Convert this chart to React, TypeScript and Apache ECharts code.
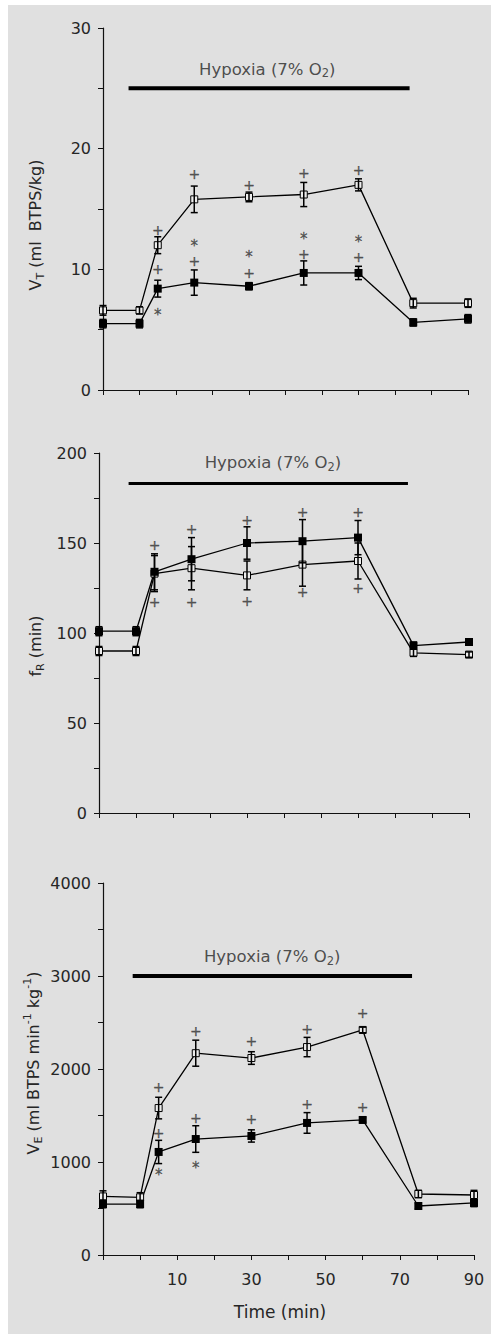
import React, { useEffect, useRef } from "react";
import * as echarts from "echarts";

// Time points (min); -10 is the baseline before hypoxia
const times = [-10, 0, 5, 15, 30, 45, 60, 75, 90];
const xLabelTicks = [10, 30, 50, 70, 90];

// Panel 1: VT (ml BTPS/kg)
const vtOpen = [6.6, 6.6, 12.0, 15.8, 16.0, 16.2, 17.0, 7.2, 7.2];
const vtOpenErr = [0.4, 0.3, 0.7, 1.1, 0.4, 1.0, 0.5, 0.4, 0.35];
const vtFilled = [5.5, 5.5, 8.4, 8.9, 8.6, 9.7, 9.7, 5.6, 5.9];
const vtFilledErr = [0.35, 0.35, 0.7, 1.05, 0.3, 1.0, 0.55, 0.3, 0.35];
const vtPlus = [[5, 13.3], [5, 10.0], [15, 17.9], [15, 10.7], [30, 17.0], [30, 9.7], [45, 18.0], [45, 11.3], [60, 18.2], [60, 11.0]];
const vtStar = [[5, 6.5], [15, 12.2], [30, 11.3], [45, 12.8], [60, 12.5]];
const vtBar = [[-3, 25], [74, 25]];
const vtBarLabel = [[35, 26.6]];

// Panel 2: fR (min)
const frOpen = [90, 90, 133, 136, 132, 138, 140, 89, 88];
const frOpenErr = [2.5, 2.5, 10, 12, 8, 12, 10, 2, 1.5];
const frFilled = [101, 101, 134, 141, 150, 151, 153, 93, 95];
const frFilledErr = [2.5, 2.5, 10, 12, 9, 12, 9.5, 2, 1.5];
const frPlus = [[5, 149], [5, 117], [15, 158], [15, 117], [30, 163], [30, 118], [45, 167], [45, 123], [60, 167], [60, 125]];
const frStar: number[][] = [];
const frBar = [[-2, 183], [73.5, 183]];
const frBarLabel = [[37, 194.5]];

// Panel 3: VE (ml BTPS min-1 kg-1)
const veOpen = [630, 620, 1580, 2170, 2118, 2236, 2420, 656, 645];
const veOpenErr = [60, 50, 116, 140, 68, 104, 30, 40, 50];
const veFilled = [548, 548, 1108, 1247, 1280, 1420, 1452, 527, 560];
const veFilledErr = [40, 40, 125, 143, 66, 111, 25, 30, 40];
const vePlus = [[5, 1806], [5, 1312], [15, 2410], [15, 1473], [30, 2300], [30, 1462], [45, 2430], [45, 1624], [60, 2602], [60, 1591]];
const veStar = [[5, 892], [15, 968]];
const veBar = [[-2, 3000], [73.3, 3000]];
const veBarLabel = [[35.6, 3205]];

const yMax = [30, 200, 4000];
const yInterval = [5, 25, 500];
const yLabelStep = [10, 50, 1000];

const FONT = "'DejaVu Sans', sans-serif";
const TXT = "#262626";
const BG = "#e0e0e0";

const grids = [
  { left: 95, top: 23, width: 365, height: 362 },
  { left: 91, top: 448, width: 370, height: 360 },
  { left: 95, top: 878, width: 371, height: 372 },
];

const panels = [
  { open: vtOpen, openErr: vtOpenErr, filled: vtFilled, filledErr: vtFilledErr, plus: vtPlus, star: vtStar, bar: vtBar, barLabel: vtBarLabel, barW: 4 },
  { open: frOpen, openErr: frOpenErr, filled: frFilled, filledErr: frFilledErr, plus: frPlus, star: frStar, bar: frBar, barLabel: frBarLabel, barW: 3 },
  { open: veOpen, openErr: veOpenErr, filled: veFilled, filledErr: veFilledErr, plus: vePlus, star: veStar, bar: veBar, barLabel: veBarLabel, barW: 4 },
];

function errRender(params: any, api: any) {
  const x = api.value(0);
  const lo = api.coord([x, api.value(1)]);
  const hi = api.coord([x, api.value(2)]);
  const w = 3.5;
  const style = { stroke: "#000", lineWidth: 1.5, fill: "none" };
  return {
    type: "group",
    children: [
      { type: "line", shape: { x1: lo[0], y1: lo[1], x2: hi[0], y2: hi[1] }, style },
      { type: "line", shape: { x1: lo[0] - w, y1: lo[1], x2: lo[0] + w, y2: lo[1] }, style },
      { type: "line", shape: { x1: hi[0] - w, y1: hi[1], x2: hi[0] + w, y2: hi[1] }, style },
    ],
  };
}

function markLabel(text: string, size: number, dy: number) {
  return {
    show: true,
    position: "inside",
    formatter: text,
    fontSize: size,
    lineHeight: 10,
    fontFamily: FONT,
    color: "#333",
    textBorderColor: "#333",
    textBorderWidth: 0.3,
    offset: [0, dy],
  };
}

function buildOption() {
  const xAxis = grids.map((_, i) => ({
    type: "value",
    gridIndex: i,
    min: -10,
    max: 90,
    interval: 10,
    axisLine: { show: true, onZero: false, lineStyle: { color: "#111", width: 1.2 } },
    axisTick: { show: true, length: 5, lineStyle: { color: "#111", width: 1 } },
    axisLabel: {
      show: i === 2,
      margin: 16,
      fontSize: 16,
      color: TXT,
      fontFamily: FONT,
      formatter: (v: number) => (xLabelTicks.includes(v) ? String(v) : ""),
    },
    splitLine: { show: false },
  }));
  const yAxis = grids.map((_, i) => ({
    type: "value",
    gridIndex: i,
    min: 0,
    max: yMax[i],
    interval: yInterval[i],
    axisLine: { show: true, onZero: false, lineStyle: { color: "#111", width: 1.2 } },
    axisTick: { show: true, length: 5, lineStyle: { color: "#111", width: 1 } },
    axisLabel: {
      margin: 12,
      fontSize: 16,
      color: TXT,
      fontFamily: FONT,
      formatter: (v: number) => (v % yLabelStep[i] === 0 ? String(v) : ""),
    },
    splitLine: { show: false },
  }));

  const series: any[] = [];
  panels.forEach((p, i) => {
    series.push({
      type: "line",
      xAxisIndex: i,
      yAxisIndex: i,
      data: p.bar,
      symbol: "none",
      silent: true,
      lineStyle: { color: "#000", width: p.barW },
      z: 2,
    });
    series.push({
      type: "scatter",
      xAxisIndex: i,
      yAxisIndex: i,
      data: p.barLabel,
      symbolSize: 1,
      silent: true,
      itemStyle: { color: "rgba(0,0,0,0)" },
      label: {
        show: true,
        position: "inside",
        formatter: "{a|Hypoxia (7% O}{s|2}{a|)}",
        rich: {
          a: { fontSize: 16.5, fontFamily: FONT, color: TXT, lineHeight: 20 },
          s: { fontSize: 11.5, fontFamily: FONT, color: TXT, lineHeight: 12, verticalAlign: "bottom" },
        },
      },
    });
    series.push({
      type: "line",
      xAxisIndex: i,
      yAxisIndex: i,
      data: times.map((t, k) => [t, p.open[k]]),
      symbol: "rect",
      symbolSize: 7,
      lineStyle: { color: "#000", width: 1.3 },
      itemStyle: { color: "#ededed", borderColor: "#000", borderWidth: 1 },
      z: 3,
    });
    series.push({
      type: "line",
      xAxisIndex: i,
      yAxisIndex: i,
      data: times.map((t, k) => [t, p.filled[k]]),
      symbol: "rect",
      symbolSize: 8,
      lineStyle: { color: "#000", width: 1.3 },
      itemStyle: { color: "#000" },
      z: 3,
    });
    series.push({
      type: "custom",
      xAxisIndex: i,
      yAxisIndex: i,
      renderItem: errRender,
      data: times.map((t, k) => [t, p.open[k] - p.openErr[k], p.open[k] + p.openErr[k]]),
      z: 4,
    });
    series.push({
      type: "custom",
      xAxisIndex: i,
      yAxisIndex: i,
      renderItem: errRender,
      data: times.map((t, k) => [t, p.filled[k] - p.filledErr[k], p.filled[k] + p.filledErr[k]]),
      z: 4,
    });
    series.push({
      type: "scatter",
      xAxisIndex: i,
      yAxisIndex: i,
      data: p.plus,
      symbolSize: 1,
      silent: true,
      itemStyle: { color: "rgba(0,0,0,0)" },
      label: markLabel("+", 14, 0),
    });
    if (p.star.length) {
      series.push({
        type: "scatter",
        xAxisIndex: i,
        yAxisIndex: i,
        data: p.star,
        symbolSize: 1,
        silent: true,
        itemStyle: { color: "rgba(0,0,0,0)" },
        label: markLabel("*", 15, 3),
      });
    }
  });

  const richBase = {
    a: { fontSize: 16, fontFamily: FONT, fill: TXT, color: TXT, lineHeight: 22 },
    s: { fontSize: 11, fontFamily: FONT, fill: TXT, color: TXT, lineHeight: 12, verticalAlign: "bottom" },
    u: { fontSize: 11, fontFamily: FONT, fill: TXT, color: TXT, lineHeight: 12, verticalAlign: "top" },
  };

  const graphic = [
    {
      type: "text",
      x: 27,
      y: 220,
      rotation: Math.PI / 2,
      style: { text: "{a|V}{s|T}{a| (ml  BTPS/kg)}", rich: richBase, align: "center", verticalAlign: "middle" },
    },
    {
      type: "text",
      x: 27,
      y: 641,
      rotation: Math.PI / 2,
      style: { text: "{a|f}{s|R}{a| (min)}", rich: richBase, align: "center", verticalAlign: "middle" },
    },
    {
      type: "text",
      x: 25,
      y: 1058,
      rotation: Math.PI / 2,
      style: {
        text: "{a|V}{s|E}{a| (ml BTPS min}{u|-1}{a| kg}{u|-1}{a|)}",
        rich: richBase,
        align: "center",
        verticalAlign: "middle",
      },
    },
    {
      type: "text",
      x: 272,
      y: 1307,
      style: { text: "Time (min)", fontSize: 17, fontFamily: FONT, fill: TXT, align: "center", verticalAlign: "middle" },
    },
  ];

  return {
    animation: false,
    backgroundColor: BG,
    grid: grids,
    xAxis,
    yAxis,
    series,
    graphic,
  };
}

export default function App() {
  const ref = useRef<HTMLDivElement>(null);
  useEffect(() => {
    if (!ref.current) return;
    const chart = echarts.init(ref.current, null, { renderer: "svg" });
    chart.setOption(buildOption() as any);
    return () => chart.dispose();
  }, []);
  return (
    <div
      ref={ref}
      style={{ position: "absolute", left: 8, top: 5, width: 483, height: 1329, background: BG }}
    />
  );
}
